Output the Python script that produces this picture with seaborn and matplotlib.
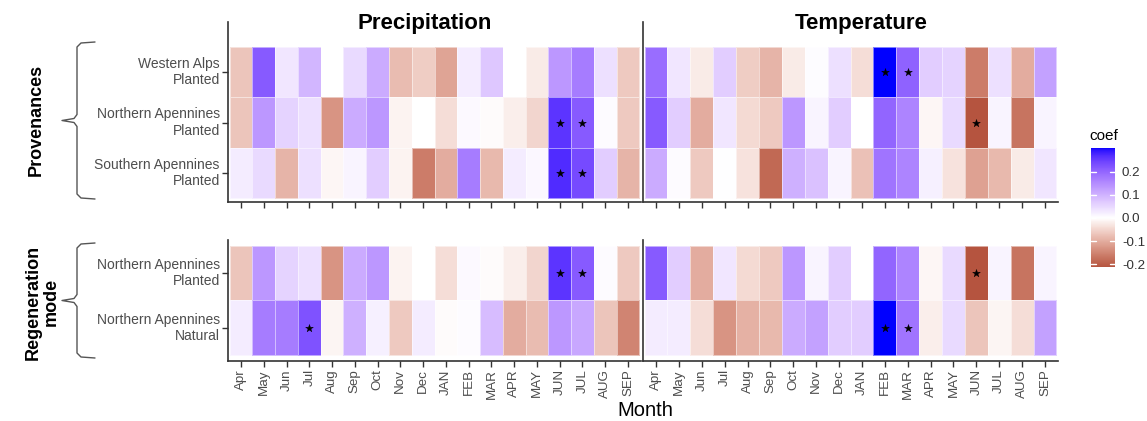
import numpy as np
import pandas as pd
import matplotlib
matplotlib.use("Agg")
import matplotlib.pyplot as plt
import seaborn as sns
from matplotlib.colors import ListedColormap, Normalize
from matplotlib.cm import ScalarMappable
from matplotlib.lines import Line2D

# ---------------- data ----------------
months = ["Apr", "May", "Jun", "Jul", "Aug", "Sep", "Oct", "Nov", "Dec", "JAN",
          "FEB", "MAR", "APR", "MAY", "JUN", "JUL", "AUG", "SEP"]

prov_rows = ["Western Alps\nPlanted", "Northern Apennines\nPlanted", "Southern Apennines\nPlanted"]
regen_rows = ["Northern Apennines\nPlanted", "Northern Apennines\nNatural"]

precip_WA = [-0.07, 0.215, 0.031, 0.095, 0.0, 0.049, 0.108, -0.08, -0.06, -0.11,
             0.023, 0.073, 0.0, -0.025, 0.135, 0.17, 0.04, -0.065]
precip_NAP = [-0.07, 0.135, 0.057, 0.04, -0.13, 0.108, 0.135, -0.015, 0.0, -0.04,
              0.008, -0.005, -0.02, -0.05, 0.26, 0.215, 0.005, -0.065]
precip_SAP = [0.023, 0.049, -0.09, 0.04, -0.01, 0.013, 0.065, -0.015, -0.16, -0.10,
              0.17, -0.085, 0.023, 0.009, 0.27, 0.235, 0.065, -0.09]
precip_NAN = [0.023, 0.17, 0.17, 0.225, -0.012, 0.102, 0.019, -0.065, 0.023, -0.004,
              0.005, 0.087, -0.10, -0.08, 0.135, 0.115, -0.07, -0.15]

temp_WA = [0.19, 0.031, -0.025, 0.065, -0.06, -0.09, -0.025, 0.003, 0.04, -0.04,
           0.302, 0.205, 0.065, 0.057, -0.16, 0.04, -0.10, 0.123]
temp_NAP = [0.215, 0.065, -0.10, 0.031, -0.045, -0.065, 0.135, 0.013, 0.065, 0.0,
            0.20, 0.16, -0.01, 0.049, -0.212, 0.013, -0.17, 0.013]
temp_SAP = [0.108, 0.005, -0.065, 0.002, -0.035, -0.185, 0.102, 0.08, 0.013, -0.075,
            0.18, 0.16, 0.019, -0.035, -0.115, -0.085, -0.025, 0.031]
temp_NAN = [0.023, 0.023, -0.04, -0.13, -0.095, -0.085, 0.108, 0.123, 0.065, 0.065,
            0.30, 0.18, -0.02, 0.049, -0.07, -0.012, -0.04, 0.123]

# significant cells (month labels)
sig_precip_WA = []
sig_precip_NAP = ["JUN", "JUL"]
sig_precip_SAP = ["JUN", "JUL"]
sig_precip_NAN = ["Jul"]
sig_temp_WA = ["FEB", "MAR"]
sig_temp_NAP = ["JUN"]
sig_temp_SAP = []
sig_temp_NAN = ["FEB", "MAR"]

# ---------------- colour scale (diverging, Lab interpolation) ----------------
LOW_END = (181, 84, 63)     # colour at the minimum of the data
MID = (255, 255, 255)
HIGH = (0, 0, 255)

def _s2l(c):
    c = np.asarray(c, float) / 255.0
    return np.where(c <= 0.04045, c / 12.92, ((c + 0.055) / 1.055) ** 2.4)

def _l2s(c):
    c = np.clip(c, 0, 1)
    return np.where(c <= 0.0031308, 12.92 * c, 1.055 * c ** (1 / 2.4) - 0.055)

_M = np.array([[0.4124, 0.3576, 0.1805], [0.2126, 0.7152, 0.0722], [0.0193, 0.1192, 0.9505]])
_Mi = np.linalg.inv(_M)
_WN = np.array([0.95047, 1.0, 1.08883])
_d = 6 / 29

def to_lab(rgb):
    xyz = _M @ _s2l(rgb) / _WN
    f = np.where(xyz > _d ** 3, np.cbrt(xyz), xyz / (3 * _d ** 2) + 4 / 29)
    return np.array([116 * f[1] - 16, 500 * (f[0] - f[1]), 200 * (f[1] - f[2])])

def from_lab(lab):
    fy_ = (lab[0] + 16) / 116
    fx_ = fy_ + lab[1] / 500
    fz_ = fy_ - lab[2] / 200
    f = np.array([fx_, fy_, fz_])
    xyz = np.where(f > _d, f ** 3, 3 * _d ** 2 * (f - 4 / 29)) * _WN
    return np.clip(_l2s(_Mi @ xyz), 0, 1)

all_vals = np.array(precip_WA + precip_NAP + precip_SAP + precip_NAN +
                    temp_WA + temp_NAP + temp_SAP + temp_NAN)
vmin, vmax = all_vals.min(), all_vals.max()

lab_lowend, lab_mid, lab_high = to_lab(LOW_END), to_lab(MID), to_lab(HIGH)
cols = []
for p in np.linspace(0, 1, 256):
    v = vmin + p * (vmax - vmin)
    if v >= 0:
        lab = lab_mid + (lab_high - lab_mid) * (v / vmax)
    else:
        lab = lab_mid + (lab_lowend - lab_mid) * (v / vmin)
    cols.append(from_lab(lab))
cmap = ListedColormap(cols)

# ---------------- figure ----------------
sns.set_style("white")
plt.rcParams["font.family"] = ["Liberation Sans", "DejaVu Sans"]

W, H = 1147, 421
fig = plt.figure(figsize=(W / 100, H / 100), dpi=100)

def fx(px):
    return px / W

def fy(py):
    return 1 - py / H

AXC = "#333333"
TXC = "#4D4D4D"

def make_panel(rect, data, rows, sigs, ylim, show_y, show_xlabels):
    ax = fig.add_axes(rect)
    df = pd.DataFrame(data, index=rows, columns=months)
    sns.heatmap(df, ax=ax, cmap=cmap, vmin=vmin, vmax=vmax, cbar=False,
                linewidths=0.4, linecolor=(1, 1, 1, 0.5))
    for r, sig in enumerate(sigs):
        xs = [months.index(m) + 0.5 for m in sig]
        ax.scatter(xs, [r + 0.5] * len(xs), marker="*", s=34, color="black",
                   linewidths=0.3, zorder=5)
    ax.set_xlim(-0.07, len(months) + 0.07)
    ax.set_ylim(*ylim)
    ax.set_xlabel("")
    ax.set_ylabel("")
    for s in ["left", "bottom"]:
        ax.spines[s].set_visible(True)
        ax.spines[s].set_color(AXC)
        ax.spines[s].set_linewidth(1.2)
    for s in ["right", "top"]:
        ax.spines[s].set_visible(False)
    ax.set_xticks(np.arange(len(months)) + 0.5)
    if show_xlabels:
        ax.set_xticklabels(months, rotation=90, fontsize=9.6, color=TXC)
    else:
        ax.set_xticklabels([])
    ax.tick_params(axis="x", bottom=True, length=4, width=1, color=AXC, pad=2)
    ax.set_yticks(np.arange(len(rows)) + 0.5)
    if show_y:
        ax.set_yticklabels(rows, rotation=0, fontsize=10, color=TXC, ha="right")
        ax.tick_params(axis="y", left=True, length=4, width=1, color=AXC, pad=2)
    else:
        ax.set_yticklabels([])
        ax.tick_params(axis="y", left=False, length=0)
    return ax

top_b, top_h = fy(202), (202 - 22) / H
bot_b, bot_h = fy(361), (361 - 240) / H
px_l, px_w = fx(228), (641 - 228) / W
tp_l, tp_w = fx(643), (1058 - 643) / W

top_ylim = (3.08, -0.5)
bot_ylim = (2.11, -0.11)

make_panel([px_l, top_b, px_w, top_h], [precip_WA, precip_NAP, precip_SAP], prov_rows,
           [sig_precip_WA, sig_precip_NAP, sig_precip_SAP], top_ylim, True, False)
make_panel([tp_l, top_b, tp_w, top_h], [temp_WA, temp_NAP, temp_SAP], prov_rows,
           [sig_temp_WA, sig_temp_NAP, sig_temp_SAP], top_ylim, False, False)
make_panel([px_l, bot_b, px_w, bot_h], [precip_NAP, precip_NAN], regen_rows,
           [sig_precip_NAP, sig_precip_NAN], bot_ylim, True, True)
make_panel([tp_l, bot_b, tp_w, bot_h], [temp_NAP, temp_NAN], regen_rows,
           [sig_temp_NAP, sig_temp_NAN], bot_ylim, False, True)

# panel titles
fig.text(fx(425), fy(24), "Precipitation", ha="center", va="center",
         fontsize=16, fontweight="bold", color="black")
fig.text(fx(861), fy(24), "Temperature", ha="center", va="center",
         fontsize=16, fontweight="bold", color="black")
fig.text(fx(645), fy(411), "Month", ha="center", va="center", fontsize=14.5, color="black")

# group labels
fig.text(fx(36), fy(120), "Provenances", rotation=90, ha="center", va="center",
         fontsize=13, fontweight="bold", color="black")
fig.text(fx(42), fy(302), "Regeneration\nmode", rotation=90, ha="center", va="center",
         fontsize=13, fontweight="bold", color="black", linespacing=1.1)

def brace(y0, y1, xline=77, xend=95, xtip=62):
    ym = (y0 + y1) / 2
    pts = [(xend, y0), (xline + 4, y0 + 1), (xline, y0 + 5),
           (xline, ym - 6), (xline - 3, ym - 2), (xtip, ym),
           (xline - 3, ym + 2), (xline, ym + 6),
           (xline, y1 - 5), (xline + 4, y1 - 1), (xend, y1)]
    xs = [fx(p[0]) for p in pts]
    ys = [fy(p[1]) for p in pts]
    fig.add_artist(Line2D(xs, ys, transform=fig.transFigure, color="#555555", lw=1.0))

brace(42, 199)
brace(243, 358)

# colour bar
cax = fig.add_axes([fx(1091), fy(267), (1115 - 1091) / W, (267 - 148) / H])
sm = ScalarMappable(norm=Normalize(vmin=vmin, vmax=vmax), cmap=cmap)
cb = fig.colorbar(sm, cax=cax)
cb.outline.set_visible(False)
ticks = [-0.2, -0.1, 0.0, 0.1, 0.2]
cb.set_ticks(ticks)
cb.set_ticklabels(["-0.2", "-0.1", "0.0", "0.1", "0.2"])
cax.tick_params(length=0, labelsize=9.6, labelcolor="#333333", pad=5)
tr = cax.get_yaxis_transform()
for t in ticks:
    cax.plot([0, 0.2], [t, t], color="white", lw=1, transform=tr)
    cax.plot([0.8, 1.0], [t, t], color="white", lw=1, transform=tr)
fig.text(fx(1089), fy(136), "coef", ha="left", va="center", fontsize=11, color="black")

fig.savefig("out.png", dpi=100)
